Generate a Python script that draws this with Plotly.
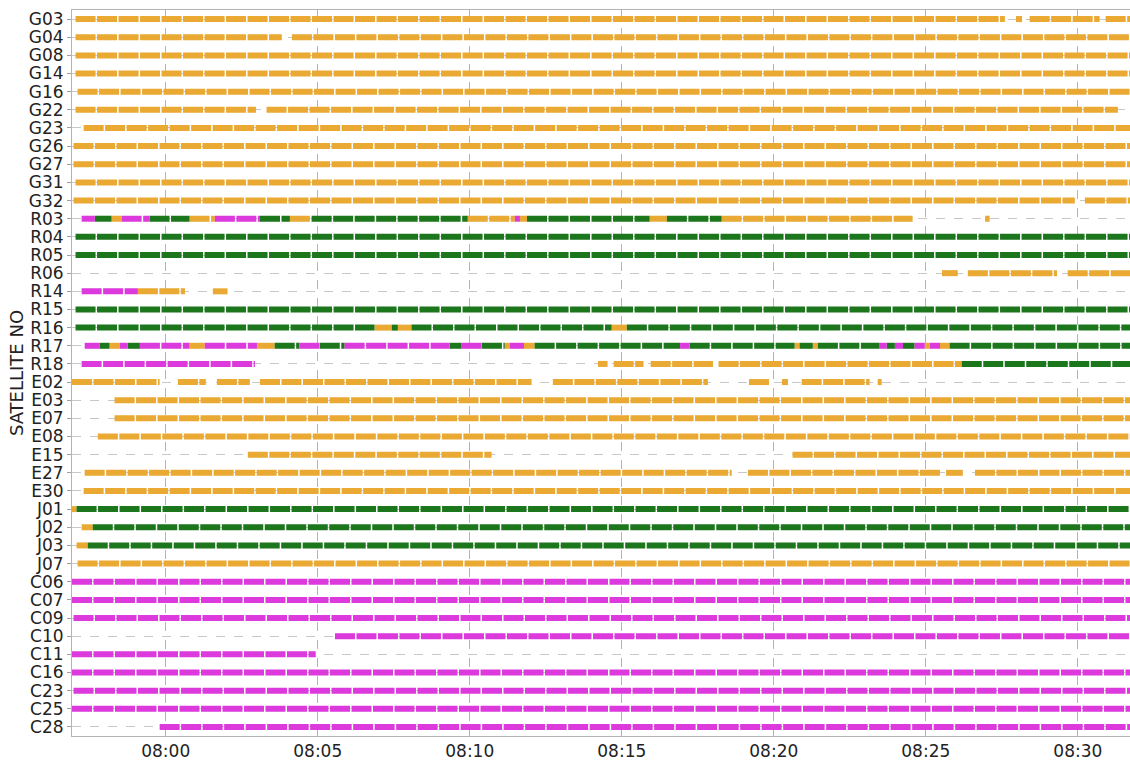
import plotly.graph_objects as go

# Observation day (only the clock time is shown on the axis)
DAY = "2021-06-15 "
T_START = "07:56:55"
T_END = "08:31:43"

satellites = [
    "G03", "G04", "G08", "G14", "G16", "G22", "G23", "G26", "G27", "G31", "G32",
    "R03", "R04", "R05", "R06", "R14", "R15", "R16", "R17", "R18",
    "E02", "E03", "E07", "E08", "E15", "E27", "E30",
    "J01", "J02", "J03", "J07",
    "C06", "C07", "C09", "C10", "C11", "C16", "C23", "C25", "C28",
]

# Tracking segments: (satellite, start, end, state)
gps_segments = [
    ("G03", "07:57:02", "08:27:36", 1), ("G03", "08:27:58", "08:28:10", 1),
    ("G03", "08:28:25", "08:30:43", 1), ("G03", "08:30:55", T_END, 1),
    ("G04", "07:57:02", "08:03:49", 1), ("G04", "08:04:09", T_END, 1),
    ("G08", "07:57:02", T_END, 1),
    ("G14", "07:57:02", T_END, 1),
    ("G16", "07:57:06", T_END, 1),
    ("G22", "07:57:02", "08:02:58", 1), ("G22", "08:03:19", "08:31:19", 1),
    ("G23", "07:57:18", T_END, 1),
    ("G26", "07:56:58", T_END, 1),
    ("G27", "07:56:58", T_END, 1),
    ("G31", "07:57:02", T_END, 1),
    ("G32", "07:56:58", "08:29:54", 1), ("G32", "08:30:14", T_END, 1),
]

glonass_segments = [
    ("R03", "07:57:14", "07:57:40", 3), ("R03", "07:57:40", "07:58:13", 2),
    ("R03", "07:58:13", "07:58:33", 1), ("R03", "07:58:33", "07:59:28", 3),
    ("R03", "07:59:28", "08:00:47", 2), ("R03", "08:00:47", "08:01:37", 1),
    ("R03", "08:01:37", "08:03:06", 3), ("R03", "08:03:06", "08:04:05", 2),
    ("R03", "08:04:05", "08:04:48", 1), ("R03", "08:04:48", "08:09:56", 2),
    ("R03", "08:09:56", "08:11:29", 1), ("R03", "08:11:29", "08:11:39", 3),
    ("R03", "08:11:39", "08:11:53", 1), ("R03", "08:11:53", "08:15:55", 2),
    ("R03", "08:15:55", "08:16:29", 1), ("R03", "08:16:29", "08:18:17", 2),
    ("R03", "08:18:17", "08:24:34", 1), ("R03", "08:26:57", "08:27:06", 1),
    ("R04", "07:57:02", T_END, 2),
    ("R05", "07:57:02", T_END, 2),
    ("R06", "08:25:32", "08:26:03", 1), ("R06", "08:26:23", "08:29:19", 1),
    ("R06", "08:29:40", T_END, 1),
    ("R14", "07:57:14", "07:59:05", 3), ("R14", "07:59:05", "08:00:38", 1),
    ("R14", "08:01:33", "08:02:02", 1),
    ("R15", "07:57:02", T_END, 2),
    ("R16", "07:57:02", "08:06:52", 2), ("R16", "08:06:52", "08:07:26", 1),
    ("R16", "08:07:26", "08:07:38", 2), ("R16", "08:07:38", "08:08:05", 1),
    ("R16", "08:08:05", "08:14:40", 2), ("R16", "08:14:40", "08:15:10", 1),
    ("R16", "08:15:10", T_END, 2),
    ("R17", "07:57:20", "07:57:50", 3), ("R17", "07:57:50", "07:58:09", 2),
    ("R17", "07:58:09", "07:58:29", 1), ("R17", "07:58:29", "07:58:45", 3),
    ("R17", "07:58:45", "07:59:09", 2), ("R17", "07:59:09", "08:00:47", 3),
    ("R17", "08:00:47", "08:01:17", 1), ("R17", "08:01:17", "08:03:00", 3),
    ("R17", "08:03:00", "08:03:35", 1), ("R17", "08:03:35", "08:04:24", 2),
    ("R17", "08:04:24", "08:05:04", 3), ("R17", "08:05:04", "08:05:53", 2),
    ("R17", "08:05:53", "08:09:20", 3), ("R17", "08:09:20", "08:09:44", 2),
    ("R17", "08:09:44", "08:10:24", 3), ("R17", "08:10:24", "08:11:09", 2),
    ("R17", "08:11:09", "08:11:19", 1), ("R17", "08:11:19", "08:11:47", 3),
    ("R17", "08:11:47", "08:12:08", 1), ("R17", "08:12:08", "08:16:55", 2),
    ("R17", "08:16:55", "08:17:14", 3), ("R17", "08:17:14", "08:20:41", 2),
    ("R17", "08:20:41", "08:20:51", 1), ("R17", "08:20:51", "08:21:17", 2),
    ("R17", "08:21:17", "08:21:27", 1), ("R17", "08:21:27", "08:23:29", 2),
    ("R17", "08:23:29", "08:23:43", 3), ("R17", "08:23:43", "08:23:59", 2),
    ("R17", "08:23:59", "08:24:15", 3), ("R17", "08:24:15", "08:24:38", 2),
    ("R17", "08:24:38", "08:24:58", 3), ("R17", "08:24:58", "08:25:08", 1),
    ("R17", "08:25:08", "08:25:28", 3), ("R17", "08:25:28", "08:25:47", 1),
    ("R17", "08:25:47", T_END, 2),
    ("R18", "07:57:14", "08:02:56", 3), ("R18", "08:14:13", "08:14:32", 1),
    ("R18", "08:14:44", "08:15:43", 1), ("R18", "08:15:57", "08:18:00", 1),
    ("R18", "08:18:11", "08:26:11", 1), ("R18", "08:26:11", T_END, 2),
]

galileo_segments = [
    ("E02", "07:56:55", "07:59:48", 1), ("E02", "08:00:24", "08:01:19", 1),
    ("E02", "08:01:41", "08:02:46", 1), ("E02", "08:03:06", "08:12:02", 1),
    ("E02", "08:12:44", "08:17:50", 1), ("E02", "08:19:11", "08:19:52", 1),
    ("E02", "08:20:16", "08:20:28", 1), ("E02", "08:20:55", "08:23:09", 1),
    ("E02", "08:23:25", "08:23:33", 1),
    ("E03", "07:58:19", T_END, 1),
    ("E07", "07:58:19", T_END, 1),
    ("E08", "07:57:46", T_END, 1),
    ("E15", "08:02:42", "08:10:43", 1), ("E15", "08:20:37", T_END, 1),
    ("E27", "07:57:20", "08:18:37", 1), ("E27", "08:19:09", "08:25:28", 1),
    ("E27", "08:25:40", "08:26:13", 1), ("E27", "08:26:37", T_END, 1),
    ("E30", "07:57:18", T_END, 1),
]

qzss_segments = [
    ("J01", "07:56:55", "07:57:04", 1), ("J01", "07:57:04", T_END, 2),
    ("J02", "07:57:14", "07:57:36", 1), ("J02", "07:57:36", T_END, 2),
    ("J03", "07:57:04", "07:57:26", 1), ("J03", "07:57:26", T_END, 2),
    ("J07", "07:57:06", T_END, 1),
]

beidou_segments = [
    ("C06", "07:56:55", T_END, 3),
    ("C07", "07:56:55", T_END, 3),
    ("C09", "07:56:58", T_END, 3),
    ("C10", "08:05:34", T_END, 3),
    ("C11", "07:56:55", "08:04:56", 3),
    ("C16", "07:56:55", T_END, 3),
    ("C23", "07:56:58", T_END, 3),
    ("C25", "07:56:55", T_END, 3),
    ("C28", "07:59:48", T_END, 3),
]

STATE_COLORS = {1: "#E9A932", 2: "#1C761C", 3: "#DC3ADC"}

all_segments = (gps_segments + glonass_segments + galileo_segments
                + qzss_segments + beidou_segments)

fig = go.Figure()
for state, color in STATE_COLORS.items():
    xs, ys = [], []
    for sat, t0, t1, st in all_segments:
        if st != state:
            continue
        xs += [DAY + t0, DAY + t1, None]
        ys += [sat, sat, None]
    fig.add_trace(go.Scatter(
        x=xs, y=ys, mode="lines", connectgaps=False,
        line=dict(color=color, width=6, dash="20px,1.5px"),
        hoverinfo="skip", showlegend=False,
    ))

fig.update_layout(
    width=1130, height=766,
    margin=dict(l=72, r=0, t=10, b=30),
    plot_bgcolor="white", paper_bgcolor="white",
    font=dict(family="DejaVu Sans", size=17, color="#222222"),
    showlegend=False,
)
fig.update_xaxes(
    type="date",
    range=[DAY + T_START, DAY + T_END],
    tick0=DAY + "08:00:00", dtick=300000, tickformat="%H:%M",
    showgrid=True, gridcolor="#b4b4b4", griddash="dash", gridwidth=1,
    showline=True, linecolor="#b4b4b4", linewidth=1, mirror=True,
    ticks="", zeroline=False,
)
fig.update_yaxes(
    type="category", categoryorder="array", categoryarray=satellites,
    tickmode="array", tickvals=satellites, ticktext=satellites,
    range=[len(satellites) - 0.5, -0.5],
    showgrid=True, gridcolor="#c8c8c8", griddash="dash", gridwidth=1,
    showline=True, linecolor="#b4b4b4", linewidth=1, mirror=True,
    ticks="outside", ticklen=4, tickcolor="#a0a0a0",
    title=dict(text="SATELLITE NO", font=dict(size=18), standoff=0),
)

fig.write_html("out.html", post_script="document.body.style.margin='0';")
